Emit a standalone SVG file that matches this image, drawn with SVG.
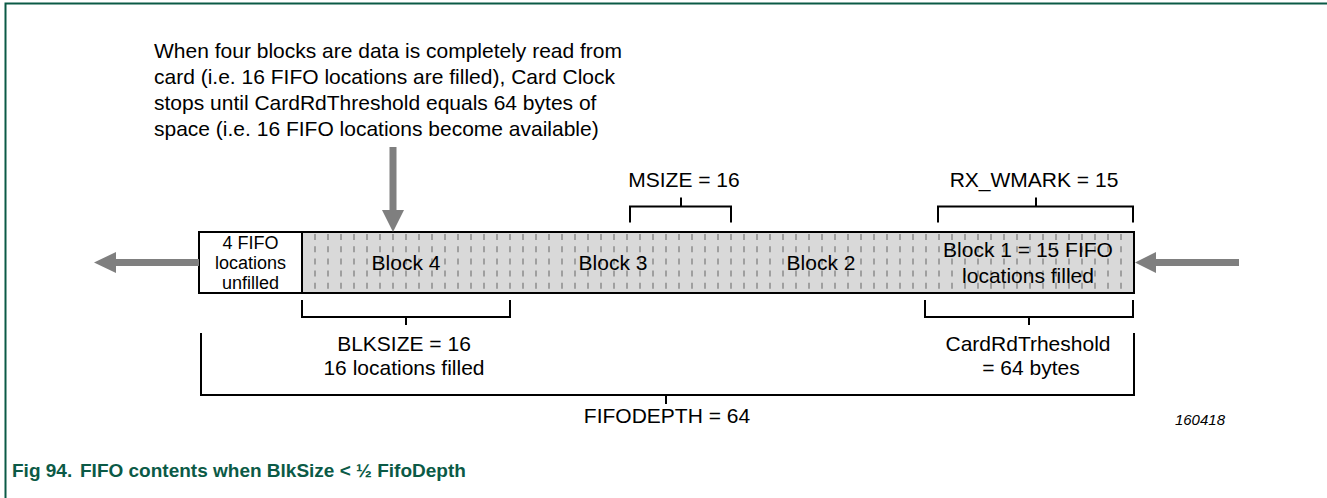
<svg xmlns="http://www.w3.org/2000/svg" width="1327" height="498" viewBox="0 0 1327 498">
<style>
text{font-family:"Liberation Sans",Arial,sans-serif;fill:#000}
.t{font-size:21px}
.s{font-size:18px}
.c{text-anchor:middle}
.br{fill:none;stroke:#000;stroke-width:2}
.dash{stroke:#8c8c8c;stroke-width:1.5;stroke-dasharray:6 6.2}
.arr{fill:#7f7f7f}
</style>
<rect width="1327" height="498" fill="#fff"/>
<g id="frame">
<path d="M5.5 498V3.5H1327" fill="none" stroke="#0b5a46" stroke-width="2"/>
</g>
<g id="description">
<text class="t" x="154" y="58">When four blocks are data is completely read from</text>
<text class="t" x="154" y="84">card (i.e. 16 FIFO locations are filled), Card Clock</text>
<text class="t" x="154" y="110">stops until CardRdThreshold equals 64 bytes of</text>
<text class="t" x="154" y="136">space (i.e. 16 FIFO locations become available)</text>
</g>
<g id="fifo">
<rect x="302" y="232" width="832" height="61" fill="#d9d9d9"/>
<g id="dashes">
<path class="dash" d="M315 234V292M328 234V292M341 234V292M354 234V292M367 234V292M380 234V292M393 234V292M406 234V292M419 234V292M432 234V292M445 234V292M458 234V292M471 234V292M484 234V292M497 234V292M510 234V292M523 234V292M536 234V292M549 234V292M562 234V292M575 234V292M588 234V292M601 234V292M614 234V292M627 234V292M640 234V292M653 234V292M666 234V292M679 234V292M692 234V292M705 234V292M718 234V292M731 234V292M744 234V292M757 234V292M770 234V292M783 234V292M796 234V292M809 234V292M822 234V292M835 234V292M848 234V292M861 234V292M874 234V292M887 234V292M900 234V292M913 234V292M926 234V292M939 234V292M952 234V292M965 234V292M978 234V292M991 234V292M1004 234V292M1017 234V292M1030 234V292M1043 234V292M1056 234V292M1069 234V292M1082 234V292M1095 234V292M1108 234V292M1121 234V292"/>
</g>
<rect x="199" y="232" width="935" height="61" fill="none" stroke="#000" stroke-width="2"/>
<line x1="302" y1="232" x2="302" y2="293" stroke="#000" stroke-width="2"/>
</g>
<g id="unfilled">
<text class="s c" x="250.5" y="249">4 FIFO</text>
<text class="s c" x="250.5" y="269">locations</text>
<text class="s c" x="250.5" y="288.5">unfilled</text>
</g>
<g id="block4"><text class="t c" x="406" y="270">Block 4</text></g>
<g id="block3"><text class="t c" x="613" y="270">Block 3</text></g>
<g id="block2"><text class="t c" x="821" y="270">Block 2</text></g>
<g id="block1">
<text class="t c" x="1028" y="257">Block 1 = 15 FIFO</text>
<text class="t c" x="1028" y="283">locations filled</text>
</g>
<g id="connectors">
<path class="arr" d="M389.5 147H396.5V210H404L393 232L382 210H389.5Z"/>
<path class="arr" d="M199 259H116V252L94 262.5L116 273V266H199Z"/>
<path class="arr" d="M1239 259H1156V252L1135 262.5L1156 273V266H1239Z"/>
</g>
<g id="msize">
<path class="br" d="M630 222.5V206.5H731V222.5M681 206.5V197.5"/>
<text class="t c" x="684" y="187">MSIZE = 16</text>
</g>
<g id="rxwmark">
<path class="br" d="M938 222.5V206.5H1133V222.5M1036 206.5V197.5"/>
<text class="t c" x="1034" y="187">RX_WMARK = 15</text>
</g>
<g id="blksize">
<path class="br" d="M302 300V317H510V300M406 317V325"/>
<text class="t c" x="404" y="351">BLKSIZE = 16</text>
<text class="t c" x="404" y="375">16 locations filled</text>
</g>
<g id="cardrd">
<path class="br" d="M925 300V317H1133V300M1029 317V325"/>
<text class="t c" x="1028" y="351">CardRdTrheshold</text>
<text class="t c" x="1031" y="375">= 64 bytes</text>
</g>
<g id="fifodepth">
<path class="br" d="M201 333V395H1134V333M666 395V404"/>
<text class="t c" x="667" y="423">FIFODEPTH = 64</text>
</g>
<text x="1225" y="425" text-anchor="end" font-size="15" font-style="italic">160418</text>
<text x="12" y="477" font-size="19" font-weight="bold" style="fill:#0b5a46">Fig 94.<tspan x="80">FIFO contents when BlkSize &lt; ½ FifoDepth</tspan></text>
</svg>
